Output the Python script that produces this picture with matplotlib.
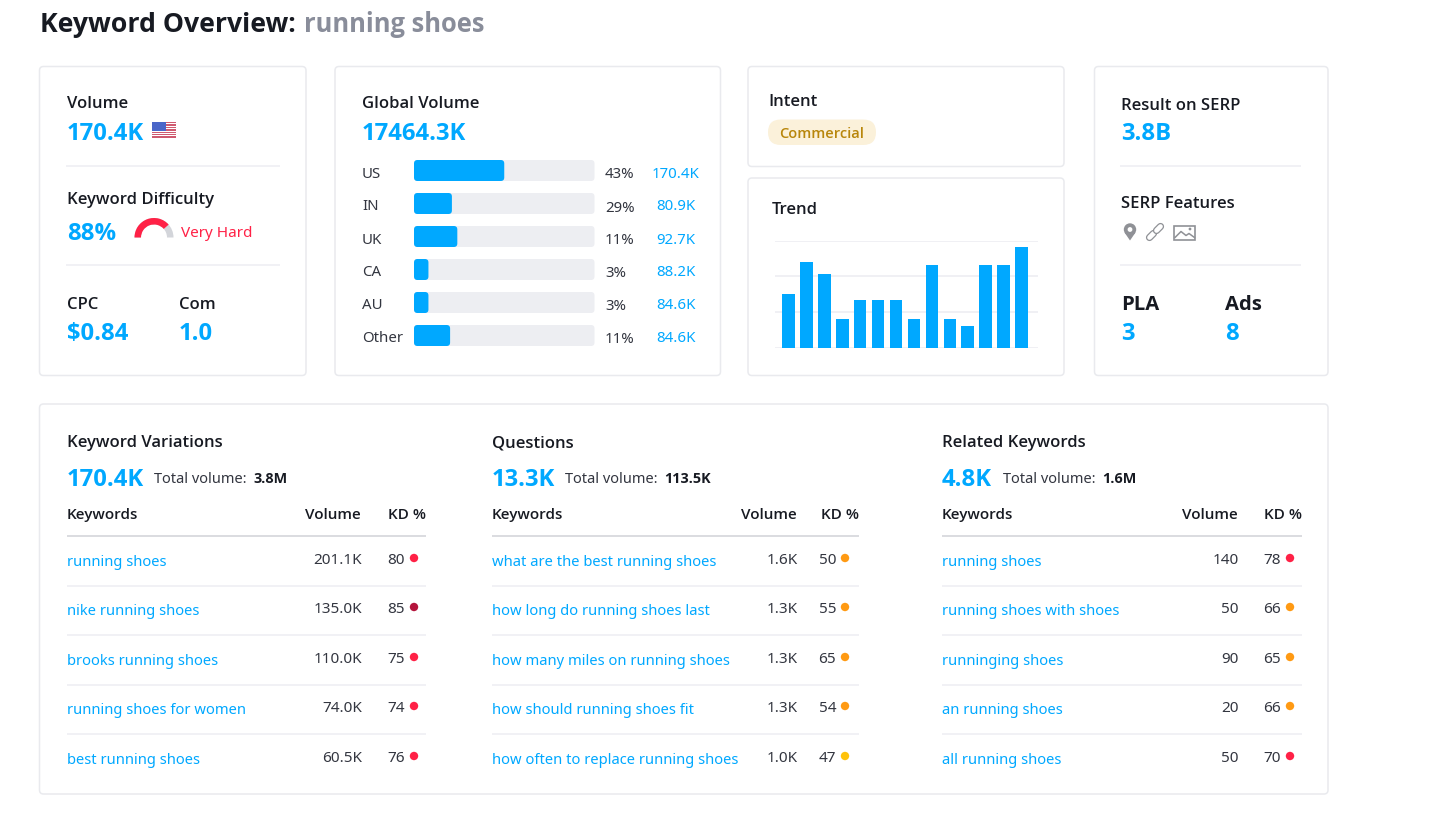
import matplotlib
matplotlib.use("Agg")
import matplotlib.pyplot as plt
from matplotlib.patches import FancyBboxPatch, Wedge, Rectangle, Circle, Polygon

plt.rcParams['font.family'] = ['Noto Sans', 'DejaVu Sans']

BLUE = '#00a8ff'
DARK = '#171a22'
BODY = '#333640'
RED = '#ff2146'
BORDER = '#e9eaee'
LINE = '#eeeef2'

countries = ['US', 'IN', 'UK', 'CA', 'AU', 'Other']
country_share = [50, 21, 24, 8, 8, 20]
country_pct = ['43%', '29%', '11%', '3%', '3%', '11%']
country_vol = ['170.4K', '80.9K', '92.7K', '88.2K', '84.6K', '84.6K']
trend = [50, 80, 69, 27, 44, 44, 44, 27, 77, 27, 20, 77, 77, 94]

var_kw = ['running shoes', 'nike running shoes', 'brooks running shoes', 'running shoes for women', 'best running shoes']
var_vol = ['201.1K', '135.0K', '110.0K', '74.0K', '60.5K']
var_kd = [80, 85, 75, 74, 76]
q_kw = ['what are the best running shoes', 'how long do running shoes last', 'how many miles on running shoes',
        'how should running shoes fit', 'how often to replace running shoes']
q_vol = ['1.6K', '1.3K', '1.3K', '1.3K', '1.0K']
q_kd = [50, 55, 65, 54, 47]
rel_kw = ['running shoes', 'running shoes with shoes', 'runninging shoes', 'an running shoes', 'all running shoes']
rel_vol = ['140', '50', '90', '20', '50']
rel_kd = [78, 66, 65, 66, 70]

W, H = 1430, 820
fig = plt.figure(figsize=(W / 100, H / 100), dpi=100, facecolor='white')
ax = fig.add_axes([0, 0, 1, 1])
ax.set_xlim(0, W)
ax.set_ylim(H - 0.5, -0.5)
ax.axis('off')


def T(x, y, s, size=11.5, color=DARK, weight='normal', ha='left'):
    fam = ['Noto Sans', 'DejaVu Sans'] if weight == 'normal' else ['Open Sans', 'DejaVu Sans']
    return ax.text(x, y - 1, s, fontsize=size, color=color, fontweight=weight, family=fam,
                   ha=ha, va='center_baseline')


def card(x0, y0, x1, y1):
    ax.add_patch(FancyBboxPatch((x0, y0), x1 - x0, y1 - y0, boxstyle='round,pad=0,rounding_size=4',
                                fc='white', ec=BORDER, lw=1.1))


def hline(x0, x1, y, color=LINE, lw=1.1):
    ax.plot([x0, x1], [y, y], color=color, lw=lw, solid_capstyle='butt')


def inset(x0, y0, x1, y1):
    a = fig.add_axes([x0 / W, 1 - y1 / H, (x1 - x0) / W, (y1 - y0) / H])
    a.patch.set_alpha(0)
    return a


T(40, 22, 'Keyword Overview:', 19.2, DARK, 'bold')
T(304, 22, 'running shoes', 18.4, '#898d9a', 'bold')

for c in [(39.5, 67, 306, 376), (335, 67, 720.5, 376), (748, 67, 1064, 167), (748, 178.5, 1064, 376),
          (1094.5, 67, 1328, 376), (39.5, 404.5, 1328, 794.5)]:
    card(*c)

HEAD = 12
SUB = 11
BIG = 17.2
HW = 600
BW = 700

# Volume card
T(67, 103, 'Volume', HEAD, DARK, HW)
T(67, 132, '170.4K', BIG, BLUE, BW)
for i in range(7):
    ax.add_patch(Rectangle((152, 122.5 + i * 2.4), 23.5, 1.3, fc='#cf5a70', lw=0))
ax.add_patch(Rectangle((152, 122), 14, 9.5, fc='#4a66c8', lw=0))
hline(66, 280, 166)
T(67, 199, 'Keyword Difficulty', HEAD, DARK, HW)
T(67, 231, '88%', BIG, BLUE, BW)
ax.add_patch(Wedge((154, 238), 19.5, 180, 360, width=6.5, fc='#d3d5da', lw=0))
ax.add_patch(Wedge((154, 238), 19.5, 180, 180 + 180 * 0.77, width=6.5, fc=RED, lw=0))
T(181, 232, 'Very Hard', 11, RED)
hline(66, 280, 265)
T(67, 304, 'CPC', HEAD, DARK, HW)
T(179, 304, 'Com', HEAD, DARK, HW)
T(67, 332, '$0.84', BIG, BLUE, BW)
T(179, 332, '1.0', BIG, BLUE, BW)

# Global volume card
T(362, 102, 'Global Volume', HEAD, DARK, HW)
T(362, 132, '17464.3K', BIG, BLUE, BW)
gv_top, gv_row = 155, 33
gv = inset(414, gv_top, 594.5, gv_top + gv_row * len(countries))
gv.set_xlim(0, 100)
gv.set_ylim(len(countries) - 0.5, -0.5)
gv.axis('off')
bar_h = 21 / gv_row
rx = 3.5 * 100 / 180.5
asp = (3.5 / gv_row) / rx
for i, (name, share, pct, vol) in enumerate(zip(countries, country_share, country_pct, country_vol)):
    gv.add_patch(FancyBboxPatch((0, i - bar_h / 2), 100, bar_h, boxstyle=f'round,pad=0,rounding_size={rx}',
                                mutation_aspect=asp, fc='#edeef2', lw=0))
    gv.add_patch(FancyBboxPatch((0, i - bar_h / 2), share, bar_h, boxstyle=f'round,pad=0,rounding_size={rx}',
                                mutation_aspect=asp, fc=BLUE, lw=0))
    y = gv_top + gv_row * (i + 0.5) + 1
    T(362, y, name, 10.8, BODY)
    T(605, y + 1, pct, 10.8, BODY)
    T(676, y, vol, 10.8, BLUE, ha='center')

# Intent
T(768, 101, 'Intent', HEAD, DARK, HW)
ax.add_patch(FancyBboxPatch((768, 120), 108, 25.5, boxstyle='round,pad=0,rounding_size=12.7', fc='#fbf1da', lw=0))
T(822, 133.5, 'Commercial', 10.5, '#b8860b', HW, ha='center')

# Trend
T(772, 208, 'Trend', HEAD, DARK, HW)
tr = inset(774.5, 241.5, 1037.5, 348.5)
tr.set_xlim(-0.78, 13.89)
tr.set_ylim(0, 100)
for s in tr.spines.values():
    s.set_visible(False)
tr.set_xticks([])
tr.set_yticks([0, 33.3, 66.7, 100])
tr.tick_params(left=False, labelleft=False)
tr.grid(axis='y', color=LINE, lw=1.2)
tr.set_axisbelow(True)
tr.bar(range(len(trend)), trend, width=0.7, color=BLUE)

# SERP
T(1121, 104, 'Result on SERP', HEAD, DARK, HW)
T(1121, 132, '3.8B', BIG, BLUE, BW)
hline(1120, 1301, 166)
T(1121, 202, 'SERP Features', HEAD, DARK, HW)
GREY = '#8f9196'
ax.add_patch(Circle((1130, 230), 6.2, fc=GREY, lw=0))
ax.add_patch(Polygon([(1124.5, 233), (1135.5, 233), (1130, 241)], fc=GREY, lw=0))
ax.add_patch(Circle((1130, 230), 2.4, fc='white', lw=0))
segs = [(1149.5, 238, 1153.5, 234), (1156.5, 231, 1160.5, 227)]
for (x0, y0, x1, y1) in segs:
    ax.plot([x0, x1], [y0, y1], color=GREY, lw=5.2, solid_capstyle='round')
    ax.plot([x0, x1], [y0, y1], color='white', lw=3.4, solid_capstyle='round')
ax.add_patch(Rectangle((1174, 226), 21, 14.5, fc='white', ec=GREY, lw=1.2))
ax.plot([1175, 1181, 1186, 1189, 1194.5], [238, 232, 236, 234, 238], color=GREY, lw=1.1)
ax.add_patch(Circle((1190, 229.5), 1.4, fc=GREY, lw=0))
hline(1120, 1301, 265.5)
T(1121, 303, 'PLA', 14.6, DARK, BW)
T(1225, 303, 'Ads', 14.6, DARK, BW)
T(1121, 332, '3', BIG, BLUE, BW)
T(1225, 332, '8', BIG, BLUE, BW)


def kd_color(v):
    if v >= 85:
        return '#b4143c'
    if v >= 70:
        return RED
    if v >= 48:
        return '#ff9a13'
    return '#ffc20a'


def block(x, title, big, big_w, total, kw, vol, kd, vol_right, kd_x, line_end):
    T(x, 442, title, HEAD, DARK, HW)
    T(x, 477.5, big, BIG, BLUE, BW)
    T(x + big_w, 478, 'Total volume:', 10.5, BODY)
    T(x + big_w + 99, 478.5, total, 10.4, DARK, BW)
    T(x, 514.5, 'Keywords', SUB, DARK, HW)
    T(vol_right, 514.5, 'Volume', SUB, DARK, HW, ha='right')
    T(line_end, 514.5, 'KD %', SUB, DARK, HW, ha='right')
    hline(x, line_end, 536, '#d8d9dd', 1.3)
    rows = [561, 610, 660, 709, 759]
    for i, (k, v, d) in enumerate(zip(kw, vol, kd)):
        y = rows[i]
        T(x, y, k, 10.6, BLUE)
        T(vol_right + 1, y - 2, v, 11, BODY, ha='right')
        T(kd_x, y - 2, str(d), 11, BODY, ha='right')
        ax.add_patch(Circle((kd_x + 9, y - 2.5), 4.2, fc=kd_color(d), lw=0))
        if i < 4:
            hline(x, line_end, (rows[i] + rows[i + 1]) / 2 + 0.5)


block(67, 'Keyword Variations', '170.4K', 87, '3.8M', var_kw, var_vol, var_kd, 361, 405, 426)
block(492, 'Questions', '13.3K', 73, '113.5K', q_kw, q_vol, q_kd, 797, 836, 859)
block(942, 'Related Keywords', '4.8K', 61, '1.6M', rel_kw, rel_vol, rel_kd, 1238, 1281, 1302)

fig.savefig('out.png', dpi=100, facecolor='white')
